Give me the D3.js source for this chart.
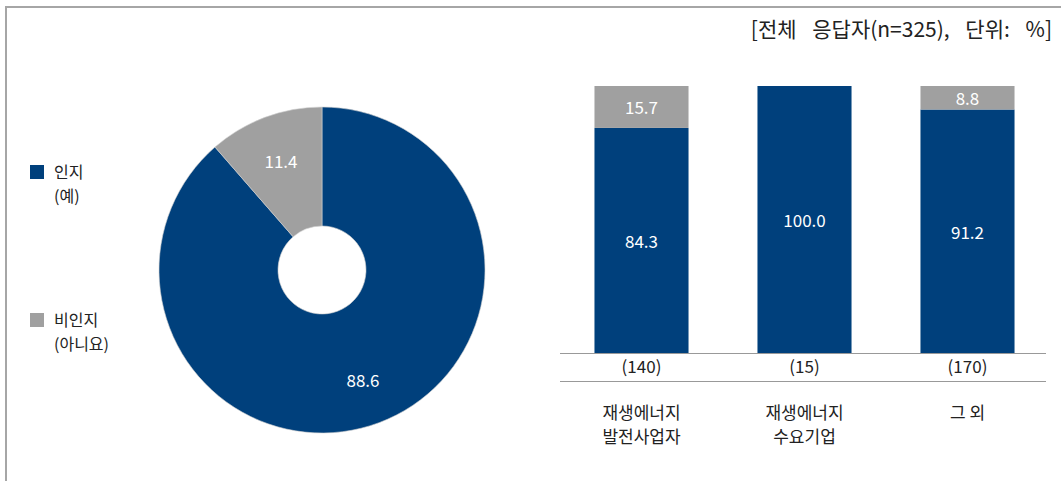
<!DOCTYPE html>
<html><head><meta charset="utf-8">
<script src="https://cdn.jsdelivr.net/npm/d3@7"></script>
<style>body{margin:0;background:#fff}svg{display:block}text{font-family:"Noto Sans CJK KR","Noto Sans",sans-serif}</style>
</head><body><svg id="c" width="1061" height="481"></svg>
<script>
const pieLabels = ["인지 (예)", "비인지 (아니요)"];
const pieValues = [88.6, 11.4];
const legendLines = [["인지", "(예)"], ["비인지", "(아니요)"]];
const categories = [["재생에너지", "발전사업자"], ["재생에너지", "수요기업"], ["그 외"]];
const counts = ["(140)", "(15)", "(170)"];
const awareValues = [84.3, 100.0, 91.2];
const unawareValues = [15.7, 0, 8.8];
const title = "[전체 응답자(n=325), 단위: %]";
const colors = ["#00407c", "#a0a0a0"];

const svg = d3.select("#c");
// frame
svg.append("line").attr("x1",6).attr("x2",1061).attr("y1",7).attr("y2",7).attr("stroke","#a6a6a6").attr("stroke-width",2);
svg.append("line").attr("x1",6).attr("x2",6).attr("y1",6).attr("y2",481).attr("stroke","#a6a6a6").attr("stroke-width",2);

svg.append("text").attr("x",1052).attr("y",37).attr("text-anchor","end").attr("font-size",21)
  .attr("word-spacing",11).attr("fill","#222").text(title);

// legend
legendLines.forEach((l,i)=>{
  const y0 = [165,313][i];
  svg.append("rect").attr("x",30).attr("y",y0).attr("width",14).attr("height",14).attr("fill",colors[i]);
  l.forEach((t,j)=>svg.append("text").attr("x",54).attr("y",y0+13+j*24).attr("font-size",16).attr("fill","#222").text(t));
});

// donut
const g = svg.append("g").attr("transform","translate(322,270)");
const pie = d3.pie().sort(null).value(d=>d);
const arc = d3.arc().innerRadius(44).outerRadius(163);
const arcs = pie(pieValues);
g.selectAll("path").data(arcs).join("path").attr("d",arc).attr("fill",(d,i)=>colors[i]).attr("stroke","#d0d0d0").attr("stroke-width",0.6);
const lblArc = d3.arc().innerRadius(117).outerRadius(117);
arcs.forEach((d,i)=>{
  const c = lblArc.centroid(d);
  g.append("text").attr("x",c[0]).attr("y",c[1]).attr("text-anchor","middle").attr("dominant-baseline","central")
   .attr("font-size",17).attr("fill","#fff").text(pieValues[i].toFixed(1));
});

// bars
const x = d3.scaleBand().domain(d3.range(categories.length)).range([560,1049]).paddingInner(0.423).paddingOuter(0.2115);
const y = d3.scaleLinear().domain([0,100]).range([353,86]);
const bw = x.bandwidth();
awareValues.forEach((v,i)=>{
  svg.append("rect").attr("x",x(i)).attr("y",y(v)).attr("width",bw).attr("height",y(0)-y(v)).attr("fill",colors[0]);
  svg.append("text").attr("x",x(i)+bw/2).attr("y",(y(v)+y(0))/2).attr("text-anchor","middle").attr("dominant-baseline","central").attr("font-size",17).attr("fill","#fff").text(v.toFixed(1));
  const u = unawareValues[i];
  if (u>0){
    svg.append("rect").attr("x",x(i)).attr("y",y(v+u)).attr("width",bw).attr("height",y(v)-y(v+u)).attr("fill",colors[1]);
    svg.append("text").attr("x",x(i)+bw/2).attr("y",(y(v)+y(v+u))/2).attr("text-anchor","middle").attr("dominant-baseline","central").attr("font-size",17).attr("fill","#fff").text(u.toFixed(1));
  }
});
svg.append("line").attr("x1",560).attr("x2",1046).attr("y1",353.5).attr("y2",353.5).attr("stroke","#999").attr("stroke-width",1.2);
svg.append("line").attr("x1",560).attr("x2",1046).attr("y1",381.5).attr("y2",381.5).attr("stroke","#999").attr("stroke-width",1.2);
counts.forEach((c,i)=>{
  svg.append("text").attr("x",x(i)+bw/2).attr("y",373).attr("text-anchor","middle").attr("font-size",17).attr("fill","#222").text(c);
});
categories.forEach((c,i)=>{
  c.forEach((t,j)=>svg.append("text").attr("x",x(i)+bw/2).attr("y",419+j*24).attr("text-anchor","middle").attr("font-size",17).attr("fill","#222").text(t));
});
</script></body></html>
